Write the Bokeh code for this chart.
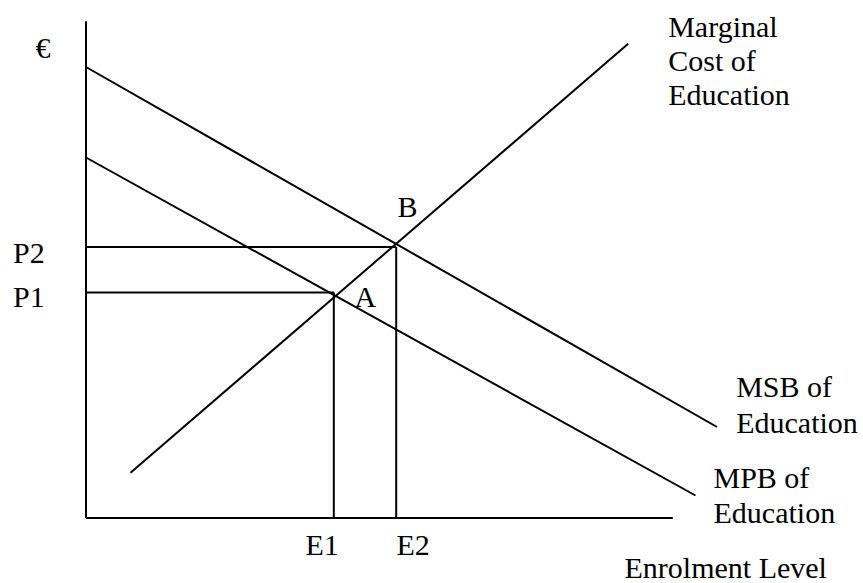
from bokeh.plotting import figure
from bokeh.models import Range1d, ColumnDataSource
from bokeh.core.properties import value
from bokeh.embed import file_html
from bokeh.resources import INLINE

# ---- diagram data (x = enrolment level, y = price in euro) ----
msb_x = [0.0, 63.1]          # MSB of Education
msb_y = [45.1, 9.1]
mpb_x = [0.0, 60.95]         # MPB of Education
mpb_y = [36.05, 2.25]
mc_x = [4.45, 54.22]         # Marginal Cost of Education
mc_y = [4.52, 47.42]

E1, E2 = 24.78, 31.02        # enrolment levels
P1, P2 = 22.56, 27.09        # prices

x_axis_end = 58.68
y_axis_end = 49.68

# ---- labels ----
label_text = ["€", "Marginal", "Cost of", "Education", "B", "A", "P2", "P1",
              "MSB of", "Education", "MPB of", "Education", "E1", "E2",
              "Enrolment Level"]
label_x = [-5.05, 58.22, 58.22, 58.22, 31.15, 26.85, -7.3, -7.3,
           65.02, 65.02, 62.75, 62.75, 21.95, 31.05, 53.85]
label_y = [47.05, 49.15, 45.75, 42.35, 31.15, 22.15, 26.6, 22.15,
           13.15, 9.58, 4.05, 0.58, -2.65, -2.65, -4.92]

p = figure(width=863, height=583,
           x_range=Range1d(-8.55, 77.75), y_range=Range1d(-6.55, 51.75),
           x_axis_type=None, y_axis_type=None,
           toolbar_location=None, output_backend="svg",
           min_border=0, min_border_left=0, min_border_right=0,
           min_border_top=0, min_border_bottom=0)
p.outline_line_color = None
p.grid.visible = False
p.background_fill_color = "white"
p.border_fill_color = "white"

lw = 2
# axes
p.line([0, 0], [0, y_axis_end], line_color="black", line_width=lw)
p.line([0, x_axis_end], [0, 0], line_color="black", line_width=lw)

# curves
p.line(msb_x, msb_y, line_color="black", line_width=lw)
p.line(mpb_x, mpb_y, line_color="black", line_width=lw)
p.line(mc_x, mc_y, line_color="black", line_width=lw)

# guide lines to equilibria
p.segment(x0=[0, 0, E1, E2], y0=[P1, P2, 0, 0],
          x1=[E1, E2, E1, E2], y1=[P1, P2, P1, P2],
          line_color="black", line_width=lw)

src = ColumnDataSource(dict(x=label_x, y=label_y, t=label_text))
p.text(x="x", y="y", text="t", source=src,
       text_font=value("Liberation Serif"), text_font_size="30px",
       text_color="black", text_align="left", text_baseline="alphabetic")

open("out.html", "w").write(file_html(p, INLINE))
